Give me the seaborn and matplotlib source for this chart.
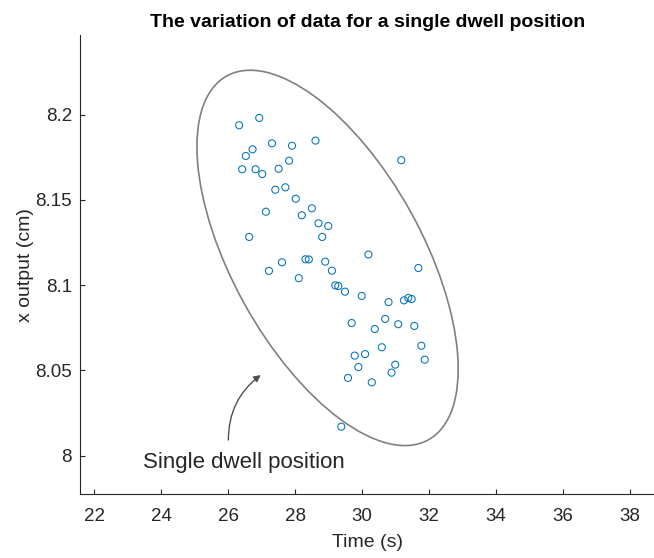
import matplotlib
matplotlib.use("Agg")
import matplotlib.pyplot as plt
import matplotlib.ticker as mticker
from matplotlib.patches import Ellipse
from matplotlib.transforms import Affine2D
import seaborn as sns

# data
time_s = [26.33, 26.93, 27.31, 26.73, 27.91, 28.61, 26.53, 27.82, 31.17, 26.42,
          26.82, 27.02, 27.51, 27.41, 27.71, 28.02, 27.13, 28.20, 28.50, 28.70,
          28.99, 26.63, 28.81, 30.19, 28.31, 28.41, 27.61, 28.90, 27.22, 29.10,
          31.68, 28.11, 29.20, 29.29, 29.49, 29.99, 30.79, 31.25, 31.38, 31.48,
          29.69, 30.69, 30.38, 31.08, 31.56, 31.77, 30.59, 29.78, 30.09, 31.87,
          29.89, 30.99, 30.88, 29.58, 30.29, 29.38]
x_output_cm = [8.1938, 8.1981, 8.1832, 8.1797, 8.1818, 8.1848, 8.1758, 8.1730, 8.1733, 8.1680,
               8.1680, 8.1652, 8.1683, 8.1560, 8.1574, 8.1507, 8.1431, 8.1410, 8.1451, 8.1363,
               8.1347, 8.1283, 8.1283, 8.1180, 8.1152, 8.1151, 8.1134, 8.1138, 8.1084, 8.1085,
               8.1101, 8.1041, 8.0999, 8.0995, 8.0962, 8.0937, 8.0901, 8.0911, 8.0925, 8.0919,
               8.0778, 8.0802, 8.0743, 8.0771, 8.0761, 8.0645, 8.0636, 8.0587, 8.0596, 8.0563,
               8.0520, 8.0534, 8.0487, 8.0456, 8.0430, 8.0170]
x_ticks = [22, 24, 26, 28, 30, 32, 34, 36, 38]
y_ticks = [8.0, 8.05, 8.1, 8.15, 8.2]

sns.set_style("ticks")
plt.rcParams["font.family"] = ["Liberation Sans", "DejaVu Sans"]

fig, ax = plt.subplots(figsize=(6.54, 5.58), dpi=100)
fig.subplots_adjust(left=0.1228, right=1.0, bottom=0.1138, top=0.9373)

blue = "#0072BD"
sns.scatterplot(x=time_s, y=x_output_cm, ax=ax, marker="o", s=26,
                color=blue, facecolor="none", edgecolor=blue, linewidth=0.75)

ax.set_xlim(21.588, 38.716)
ax.set_ylim(7.97724, 8.24674)
ax.set_xticks(x_ticks)
ax.set_yticks(y_ticks)
ax.yaxis.set_major_formatter(mticker.FormatStrFormatter("%g"))

for side in ["top", "right"]:
    ax.spines[side].set_visible(False)
for side in ["left", "bottom"]:
    ax.spines[side].set_color("#262626")
    ax.spines[side].set_linewidth(0.8)
ax.tick_params(direction="in", length=3.5, width=0.8, colors="#262626",
               labelsize=13.5)
ax.tick_params(axis="y", pad=6)
ax.tick_params(axis="x", pad=10)

ax.set_title("The variation of data for a single dwell position",
             fontsize=14, fontweight="bold", pad=6, color="black")
ax.set_xlabel("Time (s)", fontsize=14, color="#262626", labelpad=6)
ax.set_ylabel("x output (cm)", fontsize=14, color="#262626", labelpad=1)

# ellipse drawn in pixel-sized units around a data-space centre
px = Affine2D().scale(1 / 33.5, 1 / 1705.0).translate(28.97, 8.116)
ell = Ellipse((0, 0), width=416, height=190, angle=119, fill=False,
              edgecolor="#808080", linewidth=1.2, transform=px + ax.transData)
ax.add_patch(ell)

ax.annotate("", xy=(26.976, 8.0473), xytext=(26.009, 8.0092),
            arrowprops=dict(arrowstyle="-|>", connectionstyle="arc3,rad=-0.25",
                            color="#505050", lw=1.0, mutation_scale=10,
                            shrinkA=0, shrinkB=0))
ax.text(23.463, 7.99572, "Single dwell position", fontsize=16,
        ha="left", va="center", color="#262626")

plt.savefig("out.png", dpi=100)
